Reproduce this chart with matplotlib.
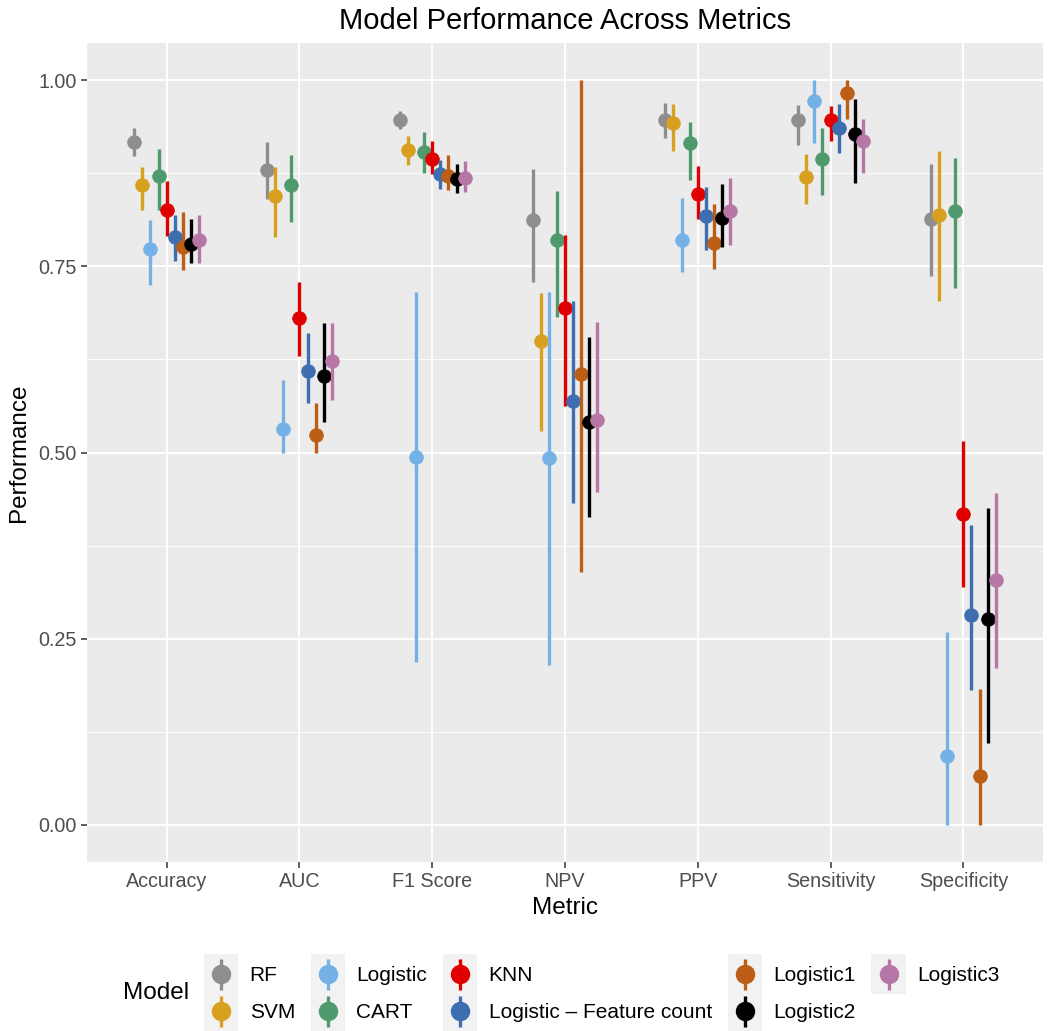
import numpy as np
import matplotlib
matplotlib.use("Agg")
import matplotlib.pyplot as plt
from matplotlib.lines import Line2D
from matplotlib.patches import Rectangle

plt.rcParams['font.family'] = ['Liberation Sans', 'DejaVu Sans']

metrics = ["Accuracy", "AUC", "F1 Score", "NPV", "PPV", "Sensitivity", "Specificity"]
models = ["RF", "SVM", "Logistic", "CART", "KNN", "Logistic \u2013 Feature count",
          "Logistic1", "Logistic2", "Logistic3"]
colors = ["#8E8E8E", "#D9A020", "#74B1E6", "#4F9A6C", "#E00000", "#3C6EB0",
          "#BC5E16", "#000000", "#B777A6"]

# point estimate, lower, upper per model, one value per metric
est = {
    "RF":        [0.917, 0.879, 0.946, 0.812, 0.947, 0.946, 0.813],
    "SVM":       [0.859, 0.844, 0.906, 0.650, 0.943, 0.870, 0.819],
    "Logistic":  [0.773, 0.532, 0.494, 0.492, 0.785, 0.972, 0.093],
    "CART":      [0.871, 0.859, 0.904, 0.785, 0.916, 0.894, 0.825],
    "KNN":       [0.826, 0.681, 0.894, 0.694, 0.847, 0.946, 0.417],
    "Logistic \u2013 Feature count": [0.789, 0.609, 0.874, 0.569, 0.817, 0.936, 0.282],
    "Logistic1": [0.776, 0.524, 0.872, 0.606, 0.782, 0.983, 0.065],
    "Logistic2": [0.780, 0.603, 0.867, 0.541, 0.815, 0.928, 0.277],
    "Logistic3": [0.785, 0.623, 0.869, 0.543, 0.824, 0.918, 0.329],
}
lower = {
    "RF":        [0.898, 0.840, 0.934, 0.729, 0.923, 0.913, 0.737],
    "SVM":       [0.826, 0.789, 0.886, 0.529, 0.905, 0.834, 0.704],
    "Logistic":  [0.725, 0.500, 0.218, 0.215, 0.742, 0.916, 0.000],
    "CART":      [0.826, 0.809, 0.875, 0.682, 0.866, 0.846, 0.721],
    "KNN":       [0.791, 0.629, 0.874, 0.562, 0.813, 0.919, 0.319],
    "Logistic \u2013 Feature count": [0.757, 0.567, 0.854, 0.432, 0.772, 0.902, 0.181],
    "Logistic1": [0.745, 0.500, 0.852, 0.340, 0.746, 0.948, 0.000],
    "Logistic2": [0.755, 0.541, 0.848, 0.413, 0.776, 0.862, 0.110],
    "Logistic3": [0.754, 0.570, 0.850, 0.447, 0.779, 0.876, 0.210],
}
upper = {
    "RF":        [0.936, 0.917, 0.959, 0.881, 0.969, 0.967, 0.888],
    "SVM":       [0.884, 0.884, 0.925, 0.714, 0.968, 0.901, 0.905],
    "Logistic":  [0.812, 0.597, 0.715, 0.715, 0.842, 1.000, 0.259],
    "CART":      [0.907, 0.899, 0.931, 0.851, 0.944, 0.936, 0.896],
    "KNN":       [0.864, 0.729, 0.918, 0.792, 0.885, 0.966, 0.516],
    "Logistic \u2013 Feature count": [0.819, 0.661, 0.893, 0.704, 0.857, 0.968, 0.402],
    "Logistic1": [0.823, 0.567, 0.900, 1.000, 0.834, 1.000, 0.182],
    "Logistic2": [0.813, 0.674, 0.887, 0.655, 0.861, 0.975, 0.426],
    "Logistic3": [0.819, 0.674, 0.892, 0.675, 0.869, 0.948, 0.445],
}
yticks = [0.0, 0.25, 0.5, 0.75, 1.0]


class KeyProxy:
    def __init__(self, color):
        self.color = color


class KeyHandler:
    # ggplot-like pointrange legend key: grey box, vertical bar, dot
    def legend_artist(self, legend, orig_handle, fontsize, handlebox):
        x0, y0 = -handlebox.xdescent, -handlebox.ydescent
        w, h = handlebox.width, handlebox.height
        tr = handlebox.get_transform()
        c = orig_handle.color
        box = Rectangle((x0, y0 - 1), w, h + 2, facecolor="#F2F2F2",
                        edgecolor="none", transform=tr)
        xm = x0 + w / 2
        bar = Line2D([xm, xm], [y0 + 2, y0 + h - 2], color=c, lw=2.4,
                     solid_capstyle="butt", transform=tr)
        dot = Line2D([xm], [y0 + h / 2], marker="o", color=c, markersize=13,
                     linestyle="none", transform=tr)
        for a in (box, bar, dot):
            handlebox.add_artist(a)
        return box


fig = plt.figure(figsize=(10.5, 10.31), dpi=100)
ax = fig.add_axes([0.0829, 0.1639, 0.9104, 0.7944])
ax.set_facecolor("#EBEBEB")

x = np.arange(1, len(metrics) + 1)
dodge = 0.55
n = len(models)
step = dodge / n

for i, (m, c) in enumerate(zip(models, colors)):
    xs = x - dodge / 2 + step * (i + 0.5)
    for j in range(len(metrics)):
        ax.plot([xs[j], xs[j]], [lower[m][j], upper[m][j]], color=c, lw=2.4,
                solid_capstyle="butt", zorder=3 + i)
    ax.plot(xs, est[m], "o", color=c, markersize=9.8, markeredgewidth=0.6,
            markeredgecolor=c, zorder=3 + i)

ax.set_xlim(0.4, 7.6)
ax.set_ylim(-0.05, 1.05)
ax.set_xticks(x)
ax.set_xticklabels(metrics)
ax.set_yticks(yticks)
ax.set_yticklabels([f"{v:.2f}" for v in yticks])
ax.set_yticks([0.125, 0.375, 0.625, 0.875], minor=True)
ax.grid(which="major", color="white", lw=1.4)
ax.grid(which="minor", axis="y", color="white", lw=0.7)
ax.set_axisbelow(True)
for s in ax.spines.values():
    s.set_visible(False)
ax.tick_params(axis="both", which="major", colors="#333333", labelcolor="#4D4D4D",
               labelsize=14.2, length=4, width=1.1)
ax.tick_params(axis="y", which="minor", length=0)

ax.set_title("Model Performance Across Metrics", fontsize=21, pad=10)
ax.set_xlabel("Metric", fontsize=17.5, labelpad=4)
ax.set_ylabel("Performance", fontsize=17.5, labelpad=6)

handles = [KeyProxy(c) for c in colors]
leg = fig.legend(handles, models, ncol=5, loc="center",
                 bbox_to_anchor=(0.573, 0.037), frameon=False, fontsize=15,
                 handler_map={KeyProxy: KeyHandler()},
                 handlelength=1.65, handleheight=2.36, handletextpad=0.55,
                 columnspacing=0.75, labelspacing=0.0, borderpad=0)
fig.text(0.117, 0.037, "Model", fontsize=17.5, va="center", ha="left")

fig.savefig("out.png", dpi=100)
